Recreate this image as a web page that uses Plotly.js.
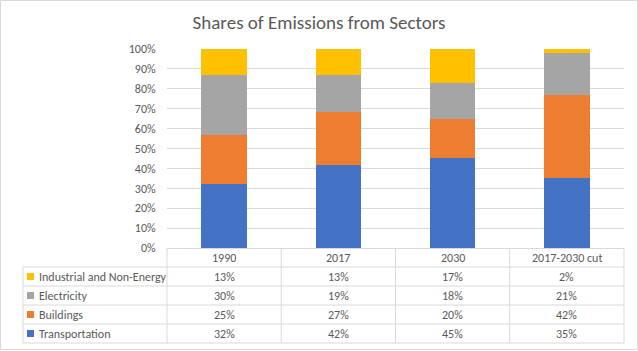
<!DOCTYPE html>
<html>
<head>
<meta charset="utf-8">
<script src="https://cdn.plot.ly/plotly-3.0.1.min.js"></script>
<style>html,body{margin:0;padding:0;background:#fff;}#chart{width:638px;height:351px;}</style>
</head>
<body>
<div id="chart"></div>
<script>
const categories = ['1990', '2017', '2030', '2017-2030 cut'];
const seriesNames = ['Transportation', 'Buildings', 'Electricity', 'Industrial and Non-Energy'];
const transportation = [32, 42, 45, 35];
const buildings = [25, 27, 20, 42];
const electricity = [30, 19, 18, 21];
const industrial = [13, 13, 17, 2];
const seriesColors = ['#4472C4', '#ED7D31', '#A5A5A5', '#FFC000'];
const yTickVals = [0, 10, 20, 30, 40, 50, 60, 70, 80, 90, 100];

const seriesValues = [transportation, buildings, electricity, industrial];

const FONT = "Carlito, Calibri, 'Liberation Sans Narrow', 'Liberation Sans', sans-serif";
const TXT = '#595959';
const GRID = '#D9D9D9';

const W = 638, H = 351, L = 167, R = 624, T = 49, B = 248;
const fx = p => (p - L) / (R - L);
const fy = p => (B - p) / (B - T);

const traces = seriesValues.map((vals, i) => ({
  type: 'bar',
  name: seriesNames[i],
  x: categories,
  y: vals,
  marker: {color: seriesColors[i]},
  hoverinfo: 'skip'
}));

const n = categories.length;
const rowTop = 267, rowH = 19, tableLeft = 23;
const tableOrder = [3, 2, 1, 0]; // top-to-bottom rows in table

const shapes = [];
const annotations = [];

// outer chart border
shapes.push({type: 'rect', xref: 'paper', yref: 'paper',
  x0: fx(0.5), x1: fx(637.5), y0: fy(0.5), y1: fy(349.5),
  line: {color: GRID, width: 1}, fillcolor: 'rgba(0,0,0,0)'});

// vertical category separators
for (let k = 0; k <= n; k++) {
  shapes.push({type: 'line', xref: 'paper', yref: 'paper',
    x0: k / n, x1: k / n, y0: fy(B), y1: fy(rowTop + rowH * tableOrder.length),
    line: {color: GRID, width: 1}});
}
// left edge of table row headers
shapes.push({type: 'line', xref: 'paper', yref: 'paper',
  x0: fx(tableLeft), x1: fx(tableLeft), y0: fy(rowTop), y1: fy(rowTop + rowH * tableOrder.length),
  line: {color: GRID, width: 1}});
// horizontal row lines
for (let r = 0; r <= tableOrder.length; r++) {
  shapes.push({type: 'line', xref: 'paper', yref: 'paper',
    x0: fx(tableLeft), x1: 1, y0: fy(rowTop + rowH * r), y1: fy(rowTop + rowH * r),
    line: {color: GRID, width: 1}});
}

// category labels
categories.forEach((c, k) => {
  annotations.push({xref: 'paper', yref: 'paper', x: (k + 0.5) / n, y: fy((B + rowTop) / 2 + 0.5),
    text: c, showarrow: false, xanchor: 'center', yanchor: 'middle',
    font: {family: FONT, size: 12, color: TXT}});
});

// table rows
tableOrder.forEach((si, r) => {
  const cy = rowTop + rowH * r + rowH / 2;
  shapes.push({type: 'rect', xref: 'paper', yref: 'paper',
    x0: fx(27), x1: fx(34), y0: fy(cy - 3.5), y1: fy(cy + 3.5),
    line: {width: 0}, fillcolor: seriesColors[si]});
  annotations.push({xref: 'paper', yref: 'paper', x: fx(37), y: fy(cy + 0.5),
    text: seriesNames[si], showarrow: false, xanchor: 'left', yanchor: 'middle',
    font: {family: FONT, size: 12, color: TXT}});
  seriesValues[si].forEach((v, k) => {
    annotations.push({xref: 'paper', yref: 'paper', x: (k + 0.5) / n, y: fy(cy + 0.5),
      text: v + '%', showarrow: false, xanchor: 'center', yanchor: 'middle',
      font: {family: FONT, size: 12, color: TXT}});
  });
});

const layout = {
  width: W, height: H,
  margin: {l: L, r: W - R, t: T, b: H - B, pad: 0},
  paper_bgcolor: '#fff', plot_bgcolor: '#fff',
  barmode: 'stack',
  barnorm: 'percent',
  bargap: 0.6,
  showlegend: false,
  title: {text: 'Shares of Emissions from Sectors', x: 0.5, xanchor: 'center',
    y: 1 - 22 / H, yanchor: 'middle', font: {family: FONT, size: 19, color: TXT}},
  xaxis: {type: 'category', showticklabels: false, ticks: '', showgrid: false,
    showline: true, linecolor: GRID, linewidth: 1, zeroline: false, range: [-0.5, n - 0.5]},
  yaxis: {range: [0, 100], tickvals: yTickVals, ticktext: yTickVals.map(v => v + '%'),
    showgrid: true, gridcolor: GRID, gridwidth: 1, zeroline: false, showline: false,
    ticks: 'outside', ticklen: 8, tickcolor: 'rgba(0,0,0,0)',
    tickfont: {family: FONT, size: 12, color: TXT}, automargin: false},
  font: {family: FONT, color: TXT},
  shapes: shapes,
  annotations: annotations
};

Plotly.newPlot('chart', traces, layout, {displayModeBar: false, staticPlot: true});
</script>
</body>
</html>
